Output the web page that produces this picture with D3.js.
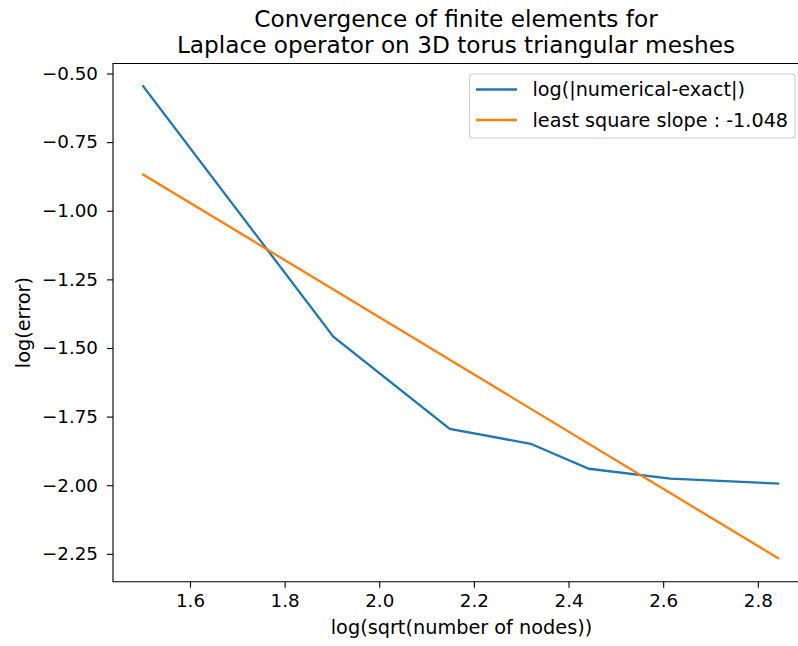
<!DOCTYPE html>
<html>
<head>
<meta charset="utf-8">
<script src="https://cdn.jsdelivr.net/npm/d3@7"></script>
<style>
  body { margin: 0; background: #fff; }
  svg { display: block; font-family: "DejaVu Sans", sans-serif; }
</style>
</head>
<body>
<div class="chartWrap"></div>
<script>
//Data
const nodesLog = [1.501, 1.903, 2.149, 2.320, 2.443, 2.615, 2.843];
const errorLog = [-0.546, -1.459, -1.795, -1.849, -1.940, -1.976, -1.994];
const fitX = [1.501, 2.843];
const fitY = [-0.868, -2.266];
const xTicks = [1.6, 1.8, 2.0, 2.2, 2.4, 2.6, 2.8];
const yTicks = [-0.50, -0.75, -1.00, -1.25, -1.50, -1.75, -2.00, -2.25];
const seriesNames = ["log(|numerical-exact|)", "least square slope : -1.048"];
const seriesColors = ["#1f77b4", "#ff7f0e"];

//Variables
const W = 798, H = 646,
      margin = {top: 63.5, left: 113, bottom: 581.7, right: 810};

const svg = d3.select(".chartWrap").append("svg").attr("width", W).attr("height", H);

const x = d3.scaleLinear().domain([1.4373, 2.9103]).range([margin.left, margin.right]);
const y = d3.scaleLinear().domain([-0.4635, -2.3515]).range([margin.top, margin.bottom]);

//Lines
const line = d3.line().x(d => x(d[0])).y(d => y(d[1]));
svg.append("path").datum(d3.zip(nodesLog, errorLog))
  .attr("d", line).attr("fill", "none").attr("stroke", seriesColors[0])
  .attr("stroke-width", 2.3).attr("stroke-linecap", "square");
svg.append("path").datum(d3.zip(fitX, fitY))
  .attr("d", line).attr("fill", "none").attr("stroke", seriesColors[1])
  .attr("stroke-width", 2.3).attr("stroke-linecap", "square");

//Axes
const xAxis = svg.append("g").attr("transform", `translate(0,${margin.bottom})`)
  .call(d3.axisBottom(x).tickValues(xTicks).tickSize(6).tickPadding(5).tickFormat(d3.format(".1f")));
const yAxis = svg.append("g").attr("transform", `translate(${margin.left},0)`)
  .call(d3.axisLeft(y).tickValues(yTicks).tickSize(6).tickPadding(9).tickFormat(d => d3.format(".2f")(d).replace("-", "\u2212")));
[xAxis, yAxis].forEach(a => {
  a.select(".domain").remove();
  a.selectAll("line").attr("stroke", "#000").attr("stroke-width", 1.1);
  a.selectAll("text").attr("fill", "#000").attr("font-size", 18.3).attr("font-family", "DejaVu Sans");
});
xAxis.selectAll("text").attr("dy", "0.71em").attr("y", 12);

//Spines
svg.append("path")
  .attr("d", `M${margin.right},${margin.top}H${margin.left}V${margin.bottom}H${margin.right}`)
  .attr("fill", "none").attr("stroke", "#000").attr("stroke-width", 1.1);

//Title
const title = svg.append("text").attr("text-anchor", "middle").attr("font-size", 23.2).attr("fill", "#000");
title.append("tspan").attr("x", 456).attr("y", 27).text("Convergence of finite elements for");
title.append("tspan").attr("x", 456).attr("y", 53).text("Laplace operator on 3D torus triangular meshes");

//Axis labels
svg.append("text").attr("x", (margin.left + margin.right) / 2).attr("y", 634)
  .attr("text-anchor", "middle").attr("font-size", 19.3).attr("fill", "#000")
  .text("log(sqrt(number of nodes))");
svg.append("text").attr("transform", `translate(29.5,${(margin.top + margin.bottom) / 2}) rotate(-90)`)
  .attr("text-anchor", "middle").attr("font-size", 19.3).attr("fill", "#000")
  .text("log(error)");

//Legend
const legend = svg.append("g");
legend.append("rect").attr("x", 469.5).attr("y", 74).attr("width", 325.5).attr("height", 64)
  .attr("rx", 3).attr("fill", "#fff").attr("fill-opacity", 0.8)
  .attr("stroke", "#ccc").attr("stroke-width", 1.1);
seriesNames.forEach((name, i) => {
  const ly = 89.5 + i * 30.5;
  legend.append("line").attr("x1", 476).attr("x2", 517).attr("y1", ly).attr("y2", ly)
    .attr("stroke", seriesColors[i]).attr("stroke-width", 2.3);
  legend.append("text").attr("x", 532.5).attr("y", ly + 6.8).attr("font-size", 19.2)
    .attr("fill", "#000").text(name);
});
</script>
</body>
</html>
